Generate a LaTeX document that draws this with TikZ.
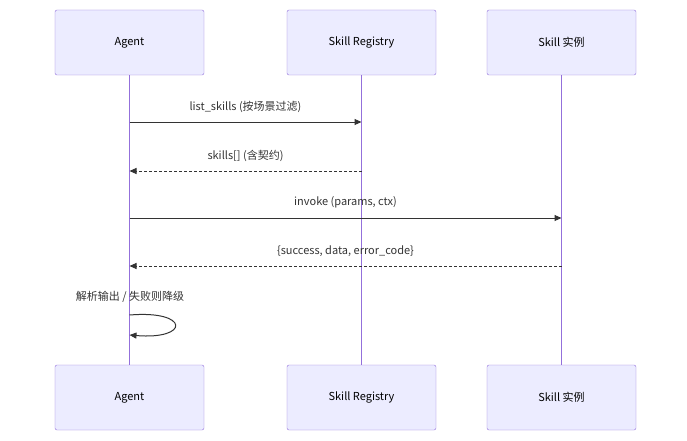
\documentclass[tikz,border=0pt]{standalone}
\usepackage{fontspec}
\setmainfont{Noto Sans CJK SC}
\usetikzlibrary{arrows.meta}

\definecolor{actfill}{HTML}{ECECFF}
\definecolor{actline}{HTML}{9370DB}
\definecolor{msgline}{HTML}{333333}

\begin{document}
\begin{tikzpicture}[x=1pt, y=-1pt,
    actor/.style={draw=actline, fill=actfill, rounded corners=2pt, minimum width=149pt,
                  minimum height=65pt, font=\fontsize{11}{13}\selectfont, inner sep=0pt},
    life/.style={actline, line width=1.3pt},
    msg/.style={msgline, line width=1pt, -{Triangle[length=7pt,width=6pt]}},
    reply/.style={msg, dashed, dash pattern=on 3pt off 2pt},
    lbl/.style={font=\fontsize{11}{13}\selectfont, text=msgline}]

    \useasboundingbox (0,0) rectangle (687,441);

    % Actors
    \node[actor] (agentT) at (129.5,42.5) {Agent};
    \node[actor] (regT)   at (361.5,42.5) {Skill Registry};
    \node[actor] (instT)  at (561.5,42.5) {Skill 实例};
    \node[actor] (agentB) at (129.5,397.5) {Agent};
    \node[actor] (regB)   at (361.5,397.5) {Skill Registry};
    \node[actor] (instB)  at (561.5,397.5) {Skill 实例};

    % Lifelines
    \draw[life] (agentT) -- (agentB);
    \draw[life] (regT) -- (regB);
    \draw[life] (instT) -- (instB);

    % Messages
    \coordinate (a1) at (129.5,122); \coordinate (r1) at (361.5,122);
    \coordinate (a2) at (129.5,171); \coordinate (r2) at (361.5,171);
    \coordinate (a3) at (129.5,218); \coordinate (i3) at (561.5,218);
    \coordinate (a4) at (129.5,266); \coordinate (i4) at (561.5,266);
    \draw[msg]   (a1) -- node[lbl, above=6pt] {list\_skills (按场景过滤)} (r1);
    \draw[reply] (r2) -- node[lbl, above=6pt] {skills[] (含契约)} (a2);
    \draw[msg]   (a3) -- node[lbl, above=6pt] {invoke (params, ctx)} (i3);
    \draw[reply] (i4) -- node[lbl, above=6pt] {\{success, data, error\_code\}} (a4);

    % Self call
    \coordinate (s1) at (129.5,315); \coordinate (s2) at (129.5,335);
    \node[lbl] (selfL) at (130,297) {解析输出 / 失败则降级};
    \draw[msg] (s1) .. controls (190,310) and (190,340) .. (s2);

\end{tikzpicture}
\end{document}
